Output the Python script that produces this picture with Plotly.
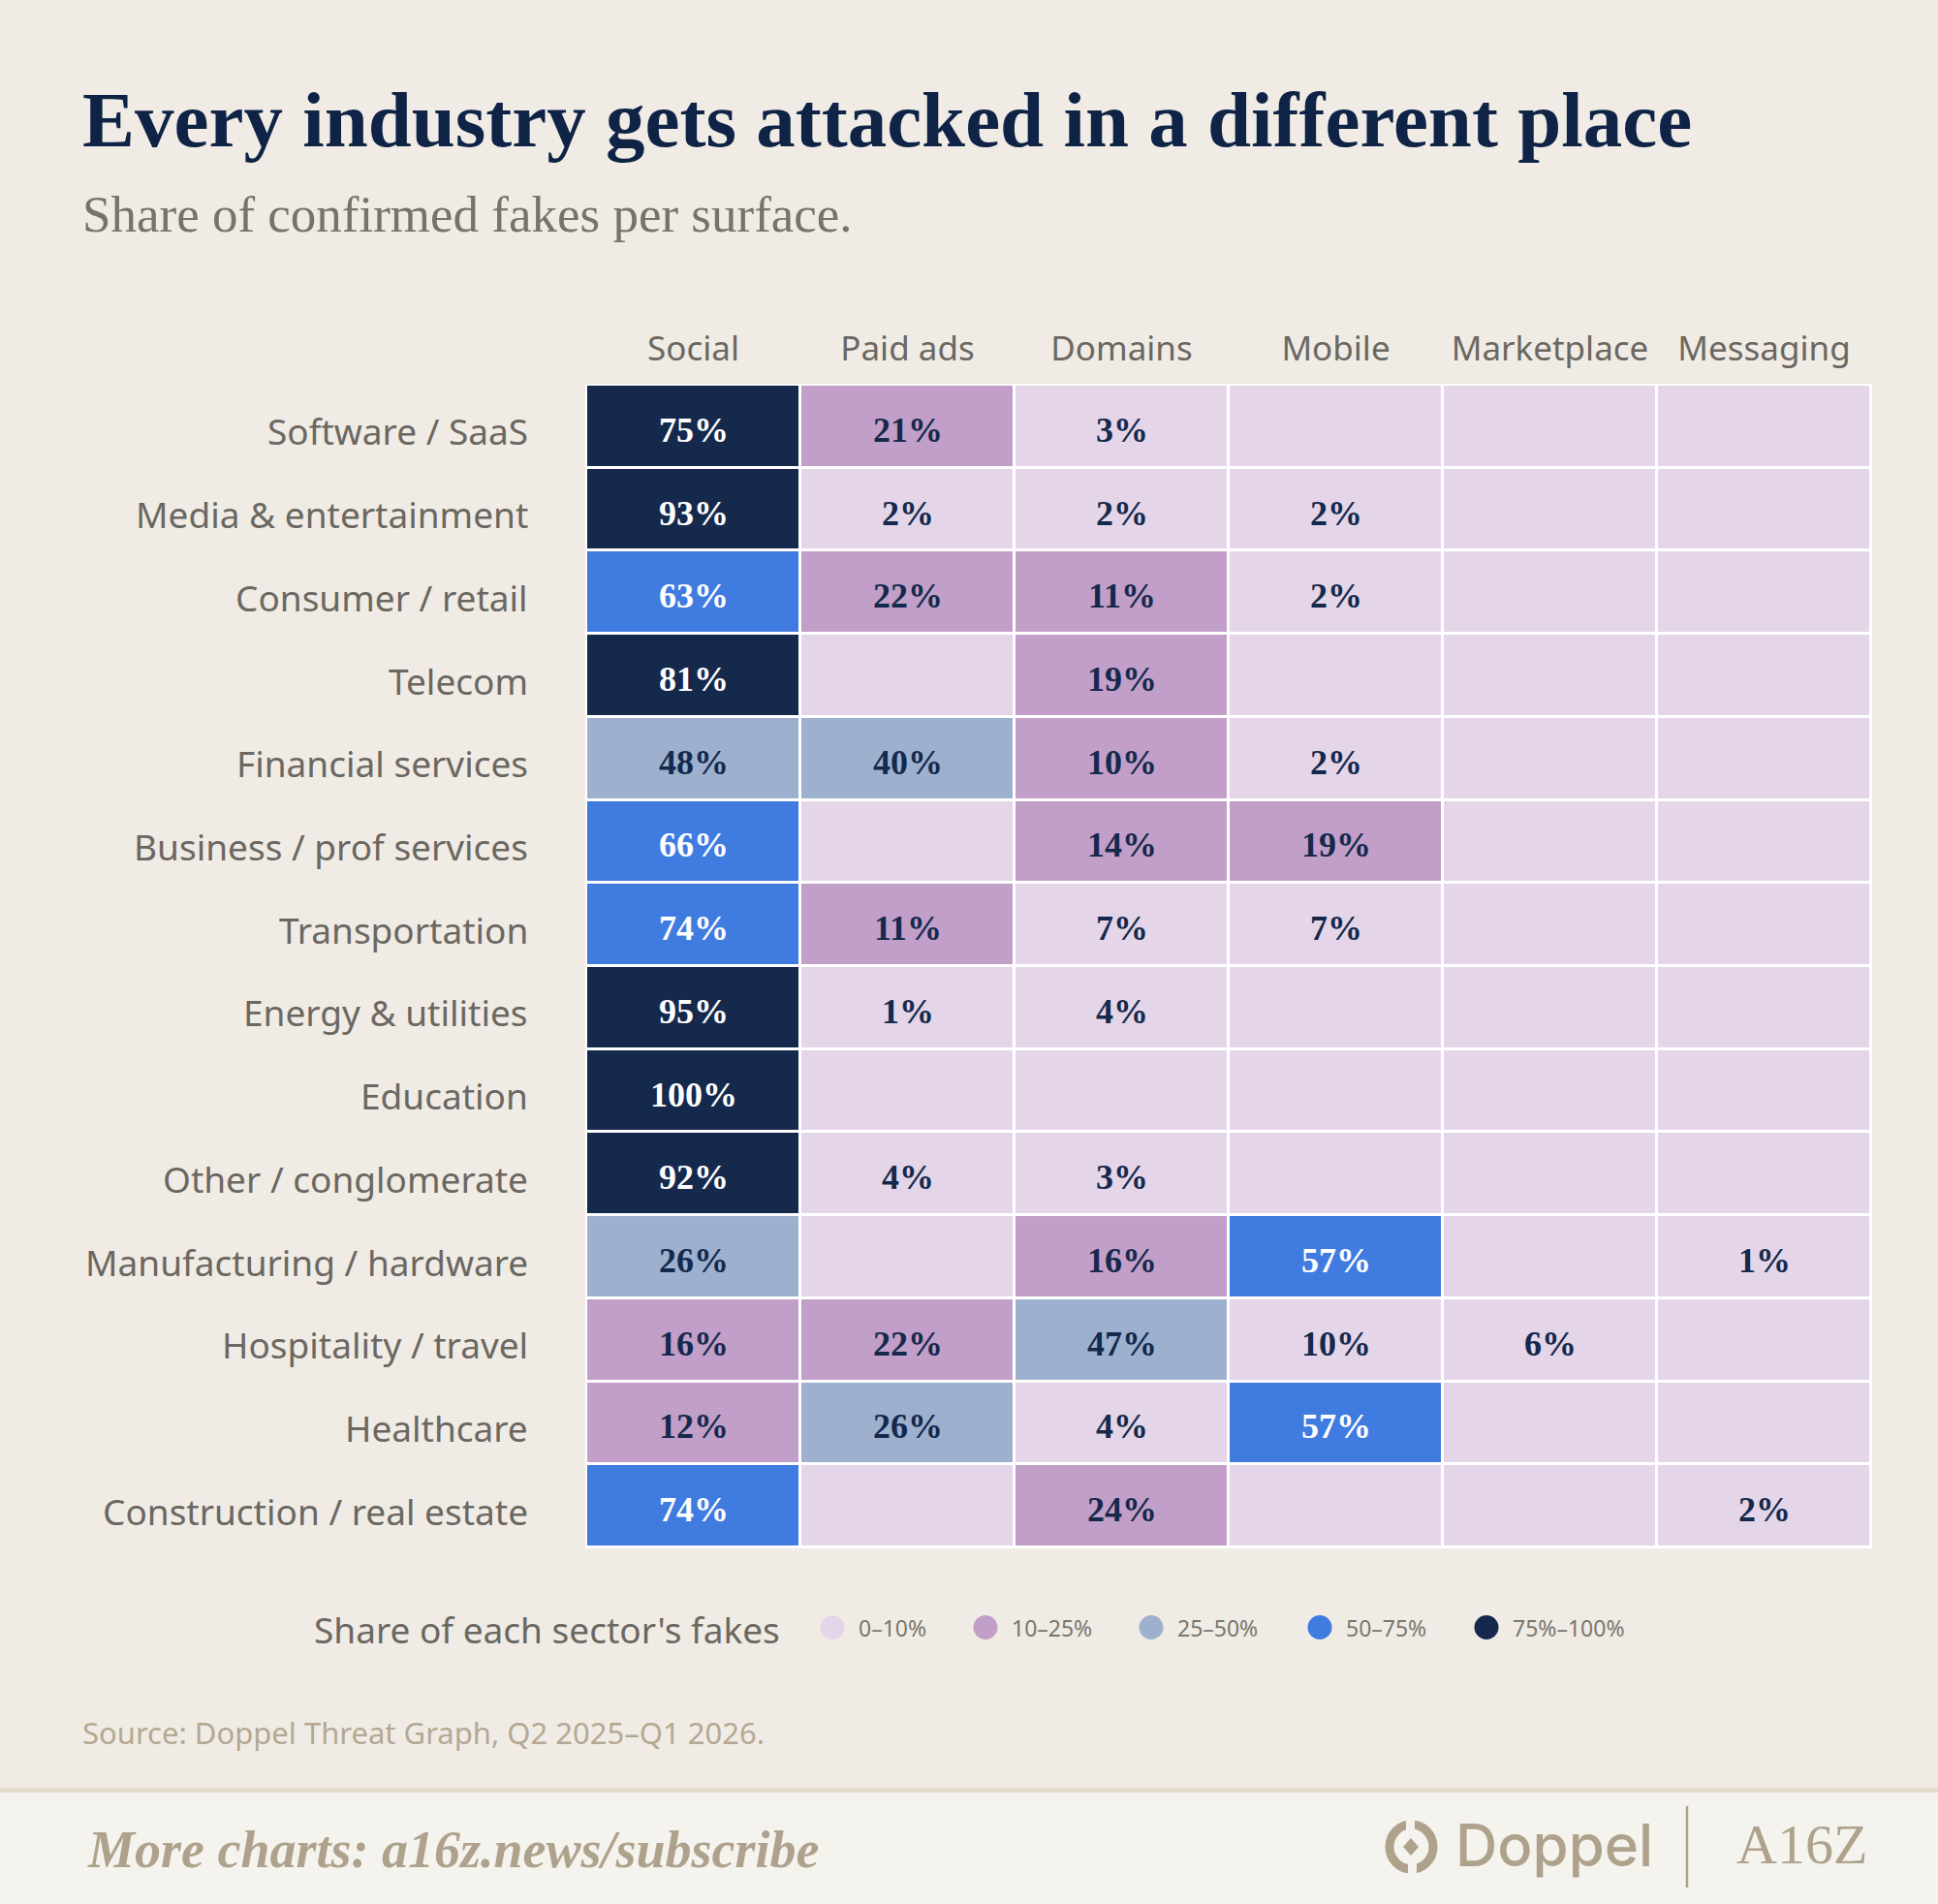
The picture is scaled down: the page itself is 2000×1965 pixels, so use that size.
import plotly.graph_objects as go

W, H = 2000, 1965

surfaces = ["Social", "Paid ads", "Domains", "Mobile", "Marketplace", "Messaging"]
sectors = [
    "Software / SaaS", "Media & entertainment", "Consumer / retail", "Telecom",
    "Financial services", "Business / prof services", "Transportation",
    "Energy & utilities", "Education", "Other / conglomerate",
    "Manufacturing / hardware", "Hospitality / travel", "Healthcare",
    "Construction / real estate",
]
# share of each sector's confirmed fakes per surface (%); None = no fakes
social      = [75, 93, 63, 81, 48, 66, 74, 95, 100, 92, 26, 16, 12, 74]
paid_ads    = [21, 2, 22, None, 40, None, 11, 1, None, 4, None, 22, 26, None]
domains     = [3, 2, 11, 19, 10.4, 14, 7, 4, None, 3, 16, 47, 4, 24]
mobile      = [None, 2, 2, None, 2, 19, 7, None, None, None, 57, 9.6, 57, None]
marketplace = [None, None, None, None, None, None, None, None, None, None, None, 6, None, None]
messaging   = [None, None, None, None, None, None, None, None, None, None, 1, None, None, 2]

bin_edges = [10, 25, 50, 75]
bin_labels = ["0–10%", "10–25%", "25–50%", "50–75%", "75%–100%"]
bin_colors = ["#E4D6E8", "#C29FC8", "#9DB1CF", "#407BE0", "#15294D"]

NAVY = "#15294D"
BG = "#F0ECE5"
GRAY = "#6B6761"
TAN = "#AFA28C"
BAND = "#F5F3EE"


def px(x):
    return x / W


def py(y):
    return 1 - y / H


def to_bin(v):
    if v is None:
        return 0
    b = 0
    for e in bin_edges:
        if v >= e:
            b += 1
    return b


columns = [social, paid_ads, domains, mobile, marketplace, messaging]
z = [[to_bin(col[i]) for col in columns] for i in range(len(sectors))]

n = len(bin_colors)
scale = []
for i, c in enumerate(bin_colors):
    scale.append([i / n, c])
    scale.append([(i + 1) / n, c])

fig = go.Figure()
fig.add_trace(go.Heatmap(
    z=z, x=surfaces, y=sectors,
    colorscale=scale, zmin=-0.5, zmax=n - 0.5,
    showscale=False, xgap=3, ygap=3, hoverinfo="skip",
))

annotations = []
for j, col in enumerate(columns):
    for i, v in enumerate(col):
        if v is None:
            continue
        annotations.append(dict(
            x=surfaces[j], y=sectors[i], xref="x", yref="y", yshift=-4,
            text=f"{round(v)}%", showarrow=False,
            font=dict(family="Liberation Serif", size=36, weight="bold",
                      color="white" if to_bin(v) >= 3 else NAVY),
        ))

# row labels, right aligned next to the grid
for s in sectors:
    annotations.append(dict(
        x=px(547), y=s, xref="paper", yref="y", yshift=-5,
        xanchor="right", yanchor="middle", showarrow=False, text=s,
        font=dict(family="Noto Sans", size=37, color=GRAY),
    ))

# titles and notes
notes = [
    dict(x=px(83), y=py(124), text="Every industry gets attacked in a different place",
         font=dict(family="Liberation Serif", size=81, weight="bold", color="#0F2346")),
    dict(x=px(83), y=py(221), text="Share of confirmed fakes per surface.",
         font=dict(family="Liberation Serif", size=53, color="#77736C")),
    dict(x=px(83), y=py(1788), text="Source: Doppel Threat Graph, Q2 2025–Q1 2026.",
         font=dict(family="Noto Sans", size=31, color="#B4A893")),
    dict(x=px(322), y=py(1681), text="Share of each sector's fakes",
         font=dict(family="Noto Sans", size=37, color=GRAY)),
    dict(x=px(88), y=py(1909), text="<i>More charts: a16z.news/subscribe</i>",
         font=dict(family="Liberation Serif", size=54, weight="bold", color=TAN)),
    dict(x=px(1500), y=py(1904), text="Doppel",
         font=dict(family="Inter", size=60, weight=500, color=TAN)),
    dict(x=px(1790), y=py(1903), text="A16Z",
         font=dict(family="Liberation Serif", size=58, color=TAN)),
]
for a in notes:
    a.update(xref="paper", yref="paper", xanchor="left", yanchor="middle", showarrow=False)
annotations += notes

shapes = [
    # white frame behind the grid
    dict(type="rect", xref="paper", yref="paper", layer="below",
         x0=px(604), x1=px(1932), y0=py(1598), y1=py(396),
         fillcolor="white", line_width=0),
    # footer band
    dict(type="rect", xref="paper", yref="paper", layer="below",
         x0=0, x1=1, y0=0, y1=py(1850), fillcolor=BAND, line_width=0),
    dict(type="rect", xref="paper", yref="paper", layer="below",
         x0=0, x1=1, y0=py(1850), y1=py(1845), fillcolor="#E3DBCB", line_width=0),
    # divider between logos
    dict(type="line", xref="paper", yref="paper",
         x0=px(1741), x1=px(1741), y0=py(1864), y1=py(1948),
         line=dict(color=TAN, width=2.5)),
    # doppel mark
    dict(type="circle", xref="paper", yref="paper",
         x0=px(1434), x1=px(1479), y0=py(1929), y1=py(1883),
         line=dict(color=TAN, width=9)),
    dict(type="rect", xref="paper", yref="paper",
         x0=px(1451), x1=px(1460), y0=py(1890), y1=py(1874),
         fillcolor=BAND, line_width=0),
    dict(type="rect", xref="paper", yref="paper",
         x0=px(1453), x1=px(1462), y0=py(1938), y1=py(1922),
         fillcolor=BAND, line_width=0),
    dict(type="path", xref="paper", yref="paper",
         path=f"M {px(1456)} {py(1897)} L {px(1464)} {py(1906)} L {px(1456)} {py(1915)} "
              f"L {px(1448)} {py(1906)} Z",
         fillcolor=TAN, line_width=0),
]

# legend swatches
legend_x = [859, 1017, 1188, 1362, 1534]
for cx, lab, col in zip(legend_x, bin_labels, bin_colors):
    shapes.append(dict(type="circle", xref="paper", yref="paper",
                       x0=px(cx - 12.5), x1=px(cx + 12.5), y0=py(1692), y1=py(1667),
                       fillcolor=col, line_width=0))
    annotations.append(dict(x=px(cx + 25), y=py(1680), xref="paper", yref="paper",
                            xanchor="left", yanchor="middle", showarrow=False, text=lab,
                            font=dict(family="Noto Sans", size=23, color="#7A766F")))

fig.update_layout(
    width=W, height=H,
    margin=dict(l=0, r=0, t=0, b=0),
    paper_bgcolor=BG, plot_bgcolor="white",
    annotations=annotations, shapes=shapes,
    xaxis=dict(domain=[px(605), px(1931)], side="top", showgrid=False, zeroline=False,
               ticks="", ticklabelstandoff=17,
               tickfont=dict(family="Noto Sans", size=35, color=GRAY)),
    yaxis=dict(domain=[py(1597), py(397)], autorange="reversed", showgrid=False,
               zeroline=False, showticklabels=False),
)

fig.write_html("out.html", config={"displayModeBar": False},
               post_script="document.body.style.margin='0';")
